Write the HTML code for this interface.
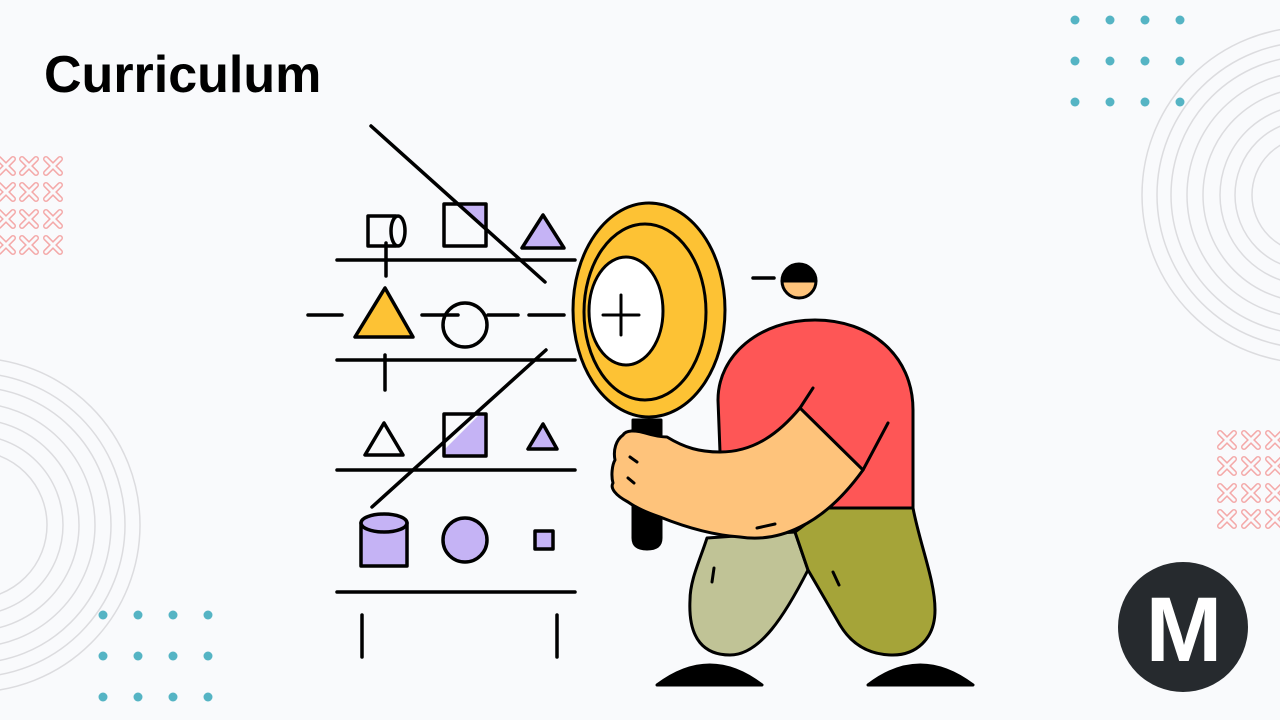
<!DOCTYPE html>
<html><head><meta charset="utf-8"><style>
html,body{margin:0;padding:0;background:#f9fafc;}
svg{display:block}
</style></head><body>
<svg width="1280" height="720" viewBox="0 0 1280 720" xmlns="http://www.w3.org/2000/svg">
<defs>
<g id="x"><path d="M-7,-7 L7,7 M7,-7 L-7,7" stroke="#f4a9a9" stroke-width="6" stroke-linecap="round"/><path d="M-7,-7 L7,7 M7,-7 L-7,7" stroke="#f9fafc" stroke-width="3" stroke-linecap="round"/></g>
</defs>
<rect width="1280" height="720" fill="#f9fafc"/>
<g fill="none" stroke="#dcdcdf" stroke-width="1.5">
<circle cx="1310" cy="195" r="168"/><circle cx="1310" cy="195" r="153"/><circle cx="1310" cy="195" r="139"/><circle cx="1310" cy="195" r="123"/><circle cx="1310" cy="195" r="107"/><circle cx="1310" cy="195" r="90"/><circle cx="1310" cy="195" r="75"/><circle cx="1310" cy="195" r="58"/>
<circle cx="-27" cy="525" r="167"/><circle cx="-27" cy="525" r="152"/><circle cx="-27" cy="525" r="138"/><circle cx="-27" cy="525" r="122"/><circle cx="-27" cy="525" r="106"/><circle cx="-27" cy="525" r="90"/><circle cx="-27" cy="525" r="74"/>
</g>
<g fill="#55b4c4">
<circle cx="1075" cy="20" r="4.5"/><circle cx="1110" cy="20" r="4.5"/><circle cx="1145" cy="20" r="4.5"/><circle cx="1180" cy="20" r="4.5"/>
<circle cx="1075" cy="61" r="4.5"/><circle cx="1110" cy="61" r="4.5"/><circle cx="1145" cy="61" r="4.5"/><circle cx="1180" cy="61" r="4.5"/>
<circle cx="1075" cy="102" r="4.5"/><circle cx="1110" cy="102" r="4.5"/><circle cx="1145" cy="102" r="4.5"/><circle cx="1180" cy="102" r="4.5"/>
<circle cx="103" cy="615" r="4.5"/><circle cx="138" cy="615" r="4.5"/><circle cx="173" cy="615" r="4.5"/><circle cx="208" cy="615" r="4.5"/>
<circle cx="103" cy="656" r="4.5"/><circle cx="138" cy="656" r="4.5"/><circle cx="173" cy="656" r="4.5"/><circle cx="208" cy="656" r="4.5"/>
<circle cx="103" cy="697" r="4.5"/><circle cx="138" cy="697" r="4.5"/><circle cx="173" cy="697" r="4.5"/><circle cx="208" cy="697" r="4.5"/>
</g>
<g>
<use href="#x" x="6" y="166"/><use href="#x" x="29" y="166"/><use href="#x" x="53" y="166"/>
<use href="#x" x="6" y="192"/><use href="#x" x="29" y="192"/><use href="#x" x="53" y="192"/>
<use href="#x" x="6" y="219"/><use href="#x" x="29" y="219"/><use href="#x" x="53" y="219"/>
<use href="#x" x="6" y="245"/><use href="#x" x="29" y="245"/><use href="#x" x="53" y="245"/>
<use href="#x" x="1227" y="440"/><use href="#x" x="1251" y="440"/><use href="#x" x="1275" y="440"/>
<use href="#x" x="1227" y="466"/><use href="#x" x="1251" y="466"/><use href="#x" x="1275" y="466"/>
<use href="#x" x="1227" y="493"/><use href="#x" x="1251" y="493"/><use href="#x" x="1275" y="493"/>
<use href="#x" x="1227" y="519"/><use href="#x" x="1251" y="519"/><use href="#x" x="1275" y="519"/>
</g>
<text x="44" y="92" font-family="Liberation Sans, sans-serif" font-weight="bold" font-size="52" fill="#000">Curriculum</text>
<circle cx="1183" cy="627" r="65" fill="#262a2e"/>
<text x="1184" y="661" text-anchor="middle" font-family="Liberation Sans, sans-serif" font-weight="bold" font-size="92" fill="#fff">M</text>
<g stroke="#000" stroke-width="3.5" stroke-linecap="round" fill="none" stroke-linejoin="round">
<line x1="337" y1="260" x2="575" y2="260"/><line x1="337" y1="360" x2="575" y2="360"/><line x1="337" y1="470" x2="575" y2="470"/><line x1="337" y1="592" x2="575" y2="592"/>
<line x1="362" y1="615" x2="362" y2="657"/><line x1="557" y1="615" x2="557" y2="657"/>
<rect x="368" y="216" width="28" height="30" fill="#f9fafc"/>
<ellipse cx="398" cy="231" rx="7" ry="15" fill="#f9fafc"/>
<polygon points="460,204 486,204 486,230" fill="#c5b3f5" stroke="none"/>
<rect x="444" y="204" width="42" height="42"/>
<polygon points="522,248 564,248 543,215" fill="#c5b3f5"/>
<line x1="386" y1="243" x2="386" y2="276"/>
<line x1="371" y1="126" x2="545" y2="282"/>
<line x1="308" y1="315" x2="342" y2="315"/>
<polygon points="355,337 413,337 385,288" fill="#fdc234"/>
<line x1="422" y1="315" x2="458" y2="315"/>
<circle cx="465" cy="325" r="22"/>
<line x1="488" y1="315" x2="518" y2="315"/>
<line x1="529" y1="315" x2="564" y2="315"/>
<line x1="385" y1="355" x2="385" y2="390"/>
<polygon points="365,455 403,455 384,423" fill="#f9fafc"/>
<polygon points="486,414 486,456 444,456 444,450 480,414" fill="#c5b3f5" stroke="none"/>
<rect x="444" y="414" width="42" height="42"/>
<polygon points="528,449 557,449 543,424" fill="#c5b3f5"/>
<line x1="546" y1="350" x2="372" y2="507"/>
<path d="M361,523 L361,566 L407,566 L407,523" fill="#c5b3f5"/>
<ellipse cx="384" cy="523" rx="23" ry="9" fill="#c5b3f5"/>
<circle cx="465" cy="540" r="22" fill="#c5b3f5"/>
<rect x="535" y="531" width="18" height="18" fill="#c5b3f5"/>
<line x1="753" y1="278" x2="774" y2="278"/>
</g>
<g stroke="#000" stroke-width="3" stroke-linejoin="round" stroke-linecap="round">
<path d="M782,281 A17,17 0 0 0 816,281 Z" fill="#fec37b"/>
<path d="M782,281 A17,17 0 0 1 816,281 Z" fill="#000"/>
<path d="M657,685 Q710,645 762,685 Z" fill="#000"/>
<path d="M868,685 Q920,645 973,685 Z" fill="#000"/>
<path d="M633,420 L661,420 L661,538 Q661,549 647,549 Q633,549 633,538 Z" fill="#000"/>
<ellipse cx="649" cy="310" rx="76" ry="107" fill="#fdc234"/>
<ellipse cx="645" cy="312" rx="61" ry="88" fill="none"/>
<ellipse cx="626" cy="311" rx="37" ry="54" fill="#fff"/>
<path d="M603,315 L639,315 M621,295 L621,335" fill="none"/>
<path d="M707,538 C700,560 690,580 690,600 C688,640 705,655 730,655 C760,655 785,615 808,570 L795,532 Z" fill="#c0c396"/>
<path d="M795,532 L827,508 L913,508 C920,545 935,580 935,610 C935,640 915,655 893,655 C870,655 852,645 840,625 L808,570 Z" fill="#a5a439"/>
<path d="M720,452 L718,400 C718,355 760,320 815,320 C870,320 913,355 913,410 L913,508 L827,508 L800,527 L720,520 Z" fill="#fe5656"/>
<path d="M800,408 L863,470 C845,495 825,515 800,527 C780,537 760,540 740,537 C710,535 680,525 660,517 C645,512 635,507 628,502 C615,495 610,488 613,483 C611,476 612,465 615,460 C613,450 616,440 623,435 C626,430 635,430 645,433 C655,436 662,437 667,437 C685,448 700,452 720,452 C755,452 780,432 800,408 Z" fill="#fec37b"/>
<path d="M800,408 L813,388 M863,470 L888,423 M630,457 L637,462 M628,478 L634,483 M757,528 L775,524 M714,568 L712,582 M833,572 L839,585" fill="none"/>
</g>
</svg>
</body></html>
